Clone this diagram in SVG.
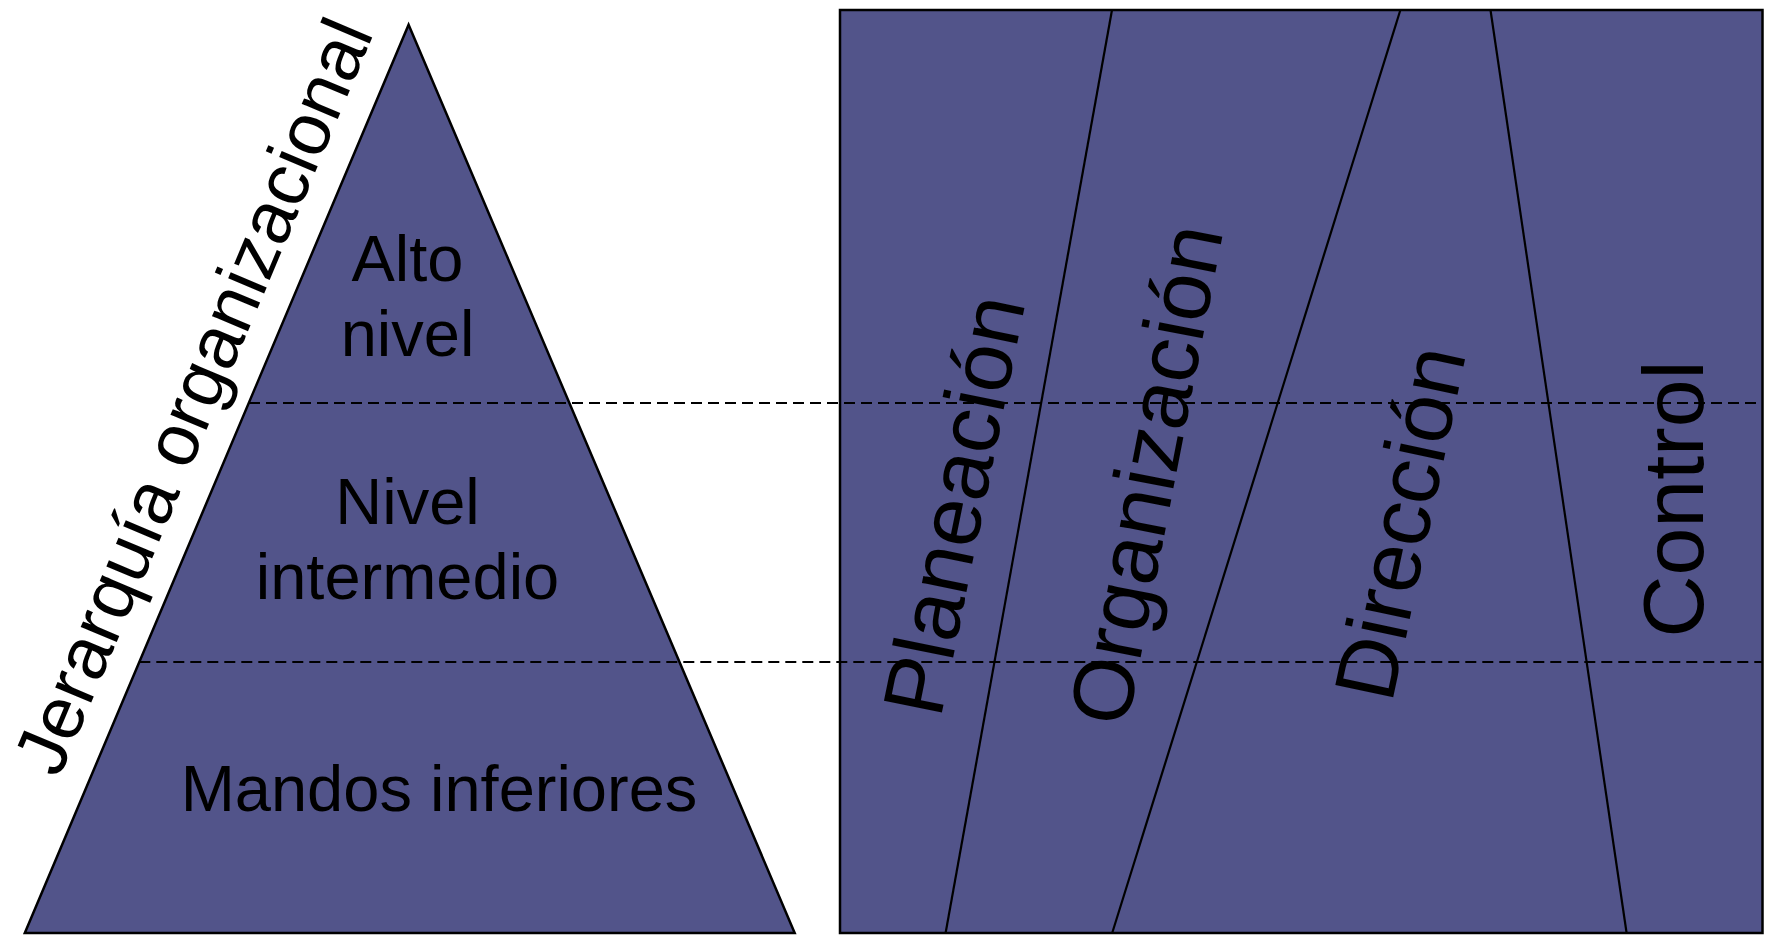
<svg xmlns="http://www.w3.org/2000/svg" width="1765" height="936" viewBox="0 0 1765 936">
  <style>
    .shape { fill: #52548a; stroke: #000; stroke-width: 2.5; stroke-linejoin: miter; }
    .divider { stroke: #000; stroke-width: 2.2; fill: none; }
    .level { stroke: #000; stroke-width: 2.2; stroke-dasharray: 11 6; fill: none; }
    .lbl { font-family: "Liberation Sans", Arial, sans-serif; fill: #000; text-anchor: middle; }
    .tier { font-size: 65px; }
    .func { font-size: 86px; }
    .axis { font-size: 74px; }
  </style>

  <!-- Organizational pyramid -->
  <g id="pyramid">
    <polygon class="shape" points="408.6,24.8 794.7,933 24.8,933"/>
  </g>

  <!-- Management functions panel -->
  <g id="functions-panel">
    <rect class="shape" x="840" y="10" width="922.5" height="923"/>
  </g>

  <!-- Boundaries between the functions -->
  <g id="connectors">
    <line class="divider" x1="1112" y1="10" x2="945.6" y2="933"/>
    <line class="divider" x1="1400.4" y1="10" x2="1112.2" y2="933"/>
    <line class="divider" x1="1490.5" y1="10" x2="1626.6" y2="933"/>
    <!-- Level separators running across both figures -->
    <line class="level" x1="249" y1="403" x2="1762.5" y2="403"/>
    <line class="level" x1="139.3" y1="662" x2="1762.5" y2="662"/>
  </g>

  <g id="tier-top">
    <text class="lbl tier" x="407.5" y="281">Alto</text>
    <text class="lbl tier" x="407.5" y="356">nivel</text>
  </g>
  <g id="tier-middle">
    <text class="lbl tier" x="407.5" y="524">Nivel</text>
    <text class="lbl tier" x="407.5" y="599">intermedio</text>
  </g>
  <g id="tier-bottom">
    <text class="lbl tier" x="439" y="811">Mandos inferiores</text>
  </g>

  <g id="axis-label">
    <text class="lbl axis" transform="translate(216.5,406) rotate(-67.1)">Jerarquía organizacional</text>
  </g>

  <g id="fn-planeacion">
    <text class="lbl func" transform="translate(983,511) rotate(-78.5)">Planeación</text>
  </g>
  <g id="fn-organizacion">
    <text class="lbl func" transform="translate(1175,480) rotate(-79)">Organización</text>
  </g>
  <g id="fn-direccion">
    <text class="lbl func" transform="translate(1429,529) rotate(-78)">Dirección</text>
  </g>
  <g id="fn-control">
    <text class="lbl func" transform="translate(1703,499) rotate(-90)">Control</text>
  </g>
</svg>
